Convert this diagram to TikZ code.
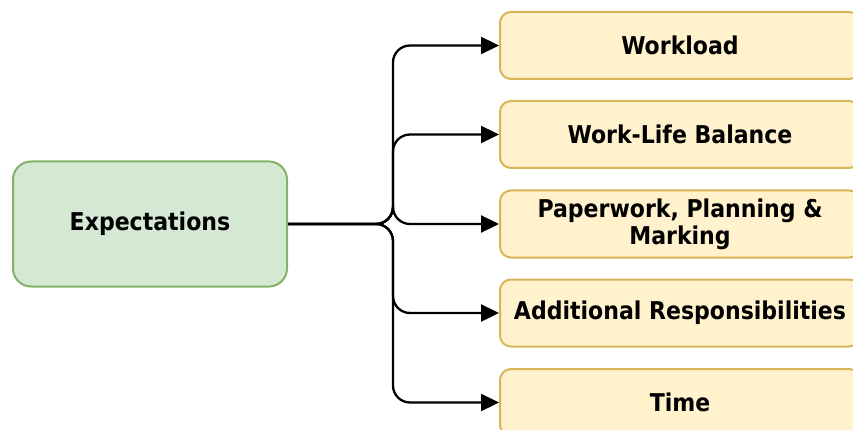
\documentclass[tikz,border=0pt]{standalone}
\usepackage{fontspec}
\setmainfont{DejaVu Sans Condensed}
\usetikzlibrary{arrows.meta}
\definecolor{greenfill}{HTML}{D5E8D4}
\definecolor{greenline}{HTML}{82B366}
\definecolor{yellowfill}{HTML}{FFF2CC}
\definecolor{yellowline}{HTML}{D6B656}

\begin{document}
\begin{tikzpicture}[x=1pt, y=-1pt,
  every node/.style = {shape=rectangle, rounded corners=11pt,
    line width=2pt, align=center,
    font=\fontsize{24.5}{27}\selectfont\bfseries},
  topic/.style = {draw=greenline, fill=greenfill, rounded corners=18pt,
    minimum width=274pt, minimum height=125pt},
  item/.style = {draw=yellowline, fill=yellowfill,
    minimum width=360pt, minimum height=67pt},
  link/.style = {line width=2.3pt, rounded corners=17pt,
    -{Triangle[length=18pt,width=17pt]}}]
  \useasboundingbox (0,0) rectangle (853,430);
  \node[topic] (exp) at (150,224) {Expectations};
  \node[item] (load) at (680,45.5) {Workload};
  \node[item] (life) at (680,134.5) {Work-Life Balance};
  \node[item] (paper) at (680,224) {Paperwork, Planning \&\\Marking};
  \node[item] (extra) at (680,313) {Additional Responsibilities};
  \node[item] (time) at (680,402.5) {Time};
  \coordinate (fork) at (393,224);
  \foreach \n in {load,life,paper,extra,time}
    \draw[link] (exp.east) -- (fork) |- (\n.west);
\end{tikzpicture}
\end{document}
